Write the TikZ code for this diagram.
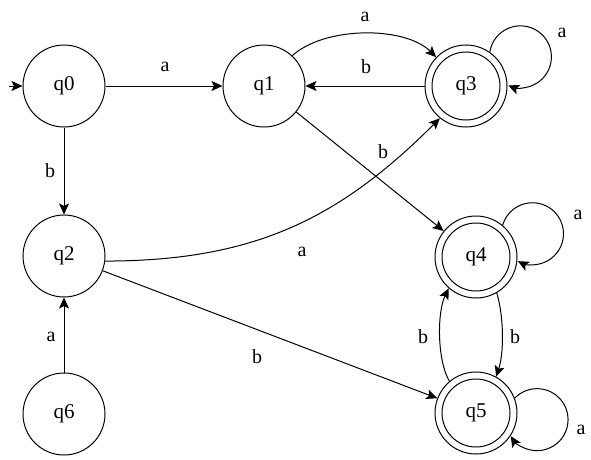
\documentclass[tikz,border=0pt]{standalone}
\usepackage{fontspec}
\setmainfont{Liberation Serif}
\usetikzlibrary{arrows.meta}
\begin{document}
\begin{tikzpicture}[x=1pt,y=1pt,
  state/.style={circle,draw,line width=1pt,minimum size=82pt,inner sep=0pt,font=\fontsize{21}{23}\selectfont},
  accept/.style={state,path picture={\draw[line width=1pt] (path picture bounding box.center) circle[radius=34pt];}},
  arr/.style={line width=1pt,-{Stealth[length=11pt,width=10pt,inset=2.5pt]}},
  lbl/.style={inner sep=0pt,font=\fontsize{20}{22}\selectfont}]
\useasboundingbox (0,0) rectangle (591,459);
\node[state] (q0) at (64,373) {q0};
\node[state] (q1) at (264,373) {q1};
\node[accept] (q3) at (466,373) {q3};
\node[state] (q2) at (64,203) {q2};
\node[state] (q6) at (64,45) {q6};
\node[accept] (q4) at (476,202) {q4};
\node[accept] (q5) at (476,46) {q5};
\coordinate (s0) at (9,373);
\draw[arr] (s0) -- (q0);
\draw[arr] (q0) -- (q1);
\draw[arr] (q0) -- (q2);
\draw[arr] (q6) -- (q2);
\draw[arr] (q1.47) .. controls (325,433) and (405,433) .. (q3.136);
\draw[arr] (q3) -- (q1);
\draw[arr] (q3.55) arc[start angle=171, end angle=-113, radius=31];
\draw[arr] (q1) -- (q4);
\draw[arr] (q2.-7) .. controls (255,198) and (340,241) .. (q3.231);
\draw[arr] (q2) -- (q5);
\draw[arr] (q4.50) arc[start angle=164, end angle=-118, radius=31];
\draw[arr] (q5.21) arc[start angle=136, end angle=-148, radius=31];
\draw[arr] (q4.-60) .. controls (504,142) and (504,106) .. (q5.61);
\draw[arr] (q5.130) .. controls (437,99) and (437,147) .. (q4.229);
\node[lbl] (l1) at (165,392) {a};
\node[lbl] (l2) at (50,288) {b};
\node[lbl] (l3) at (51,122) {a};
\node[lbl] (l4) at (365,442) {a};
\node[lbl] (l5) at (366,392) {b};
\node[lbl] (l6) at (562,426) {a};
\node[lbl] (l7) at (383,307) {b};
\node[lbl] (l8) at (302,207) {a};
\node[lbl] (l9) at (257,102) {b};
\node[lbl] (l10) at (515,122) {b};
\node[lbl] (l11) at (423,122) {b};
\node[lbl] (l12) at (578,244) {a};
\node[lbl] (l13) at (581,29) {a};
\end{tikzpicture}
\end{document}
